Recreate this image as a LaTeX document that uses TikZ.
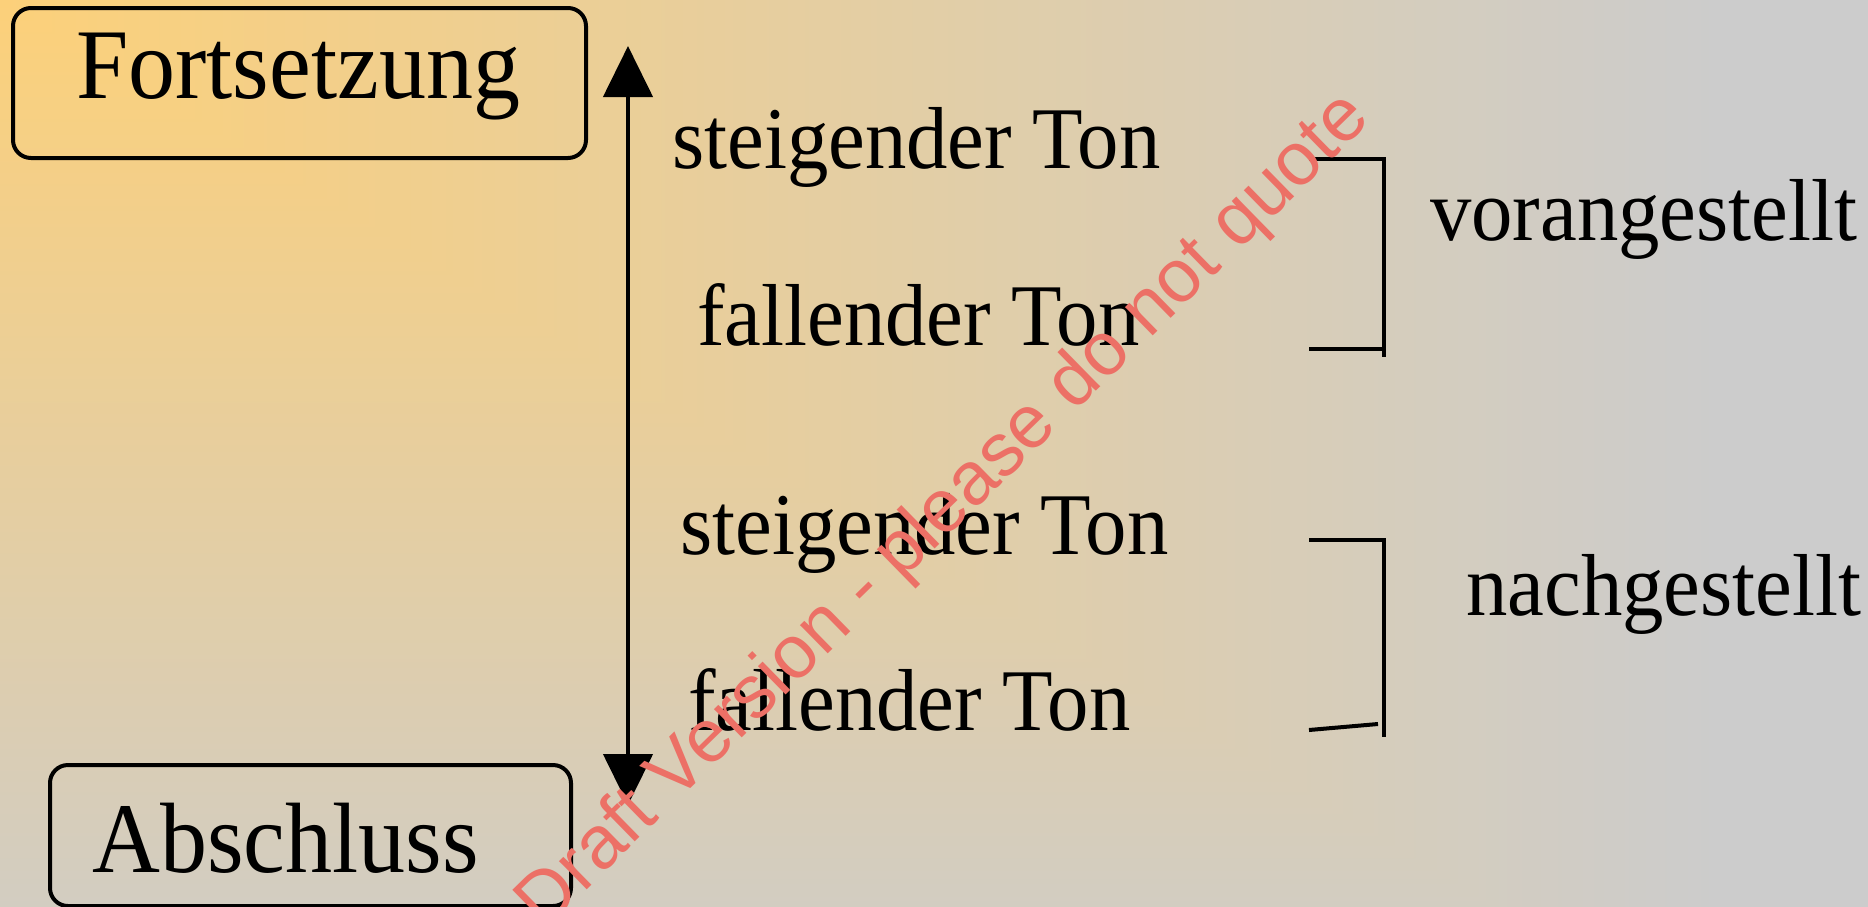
\documentclass[tikz,border=0pt]{standalone}
\usepackage{fontspec}
\setmainfont[FakeStretch=0.94]{Liberation Serif}
\newfontfamily\wmfont{Liberation Sans}
\usetikzlibrary{arrows.meta}
\definecolor{bgB}{RGB}{204,204,204}
\definecolor{wmred}{RGB}{236,112,102}
\pgfdeclarefunctionalshading{cornergrad}{\pgfpoint{0bp}{0bp}}{\pgfpoint{100bp}{100bp}}{}{
  exch 25 sub 46 div
  exch 75 exch sub 57.5 div
  2 copy sub abs add add 2 div
  dup 1 sub abs neg add 1 add 2 div
  dup abs add 2 div
  dup -0.188 mul 0.988 add
  exch dup -0.016 mul 0.816 add
  exch 0.322 mul 0.478 add
}
\begin{document}
\begin{tikzpicture}[x=1pt,y=-1pt,
  boxstyle/.style={draw=black,line width=4pt,rounded corners=18pt,inner sep=0pt,anchor=north west},
  bigtxt/.style={font=\fontsize{100}{110}\selectfont,inner sep=0pt,anchor=base west},
  midtxt/.style={font=\fontsize{88}{100}\selectfont,inner sep=0pt,anchor=base west},
  brk/.style={line width=4pt},
  axisarrow/.style={line width=4.5pt,{Triangle[length=51pt,width=49pt]}-{Triangle[length=51pt,width=49pt]}},
  wmark/.style={font=\wmfont\fontsize{75}{80}\selectfont,text=wmred,inner sep=0pt,rotate=44.4}]
\useasboundingbox (0,0) rectangle (1868,906);
\fill[bgB] (0,0) rectangle (1868,906);
\shade[shading=cornergrad] (0,0) rectangle (1868,906);
% boxes
\node[boxstyle,minimum width=573pt,minimum height=150pt] (fbox) at (11,6) {};
\node[boxstyle,minimum width=521pt,minimum height=141pt] (abox) at (48,763) {};
\node[bigtxt] (fort) at (76,98) {Fortsetzung};
\node[bigtxt] (absch) at (92,872) {Abschluss};
% arrow
\coordinate (atop) at (628,46);
\coordinate (abot) at (628,805);
\draw[axisarrow] (atop) -- (abot);
% middle texts
\node[midtxt] (st1) at (672,168) {steigender Ton};
\node[midtxt] (fa1) at (697,345) {fallender Ton};
\node[midtxt] (st2) at (680,554) {steigender Ton};
\node[midtxt] (fa2) at (688,730) {fallender Ton};
\node[midtxt] (vor) at (1430,240) {vorangestellt};
\node[midtxt] (nach) at (1466,615) {nachgestellt};
% brackets
\coordinate (b1a) at (1309,159);
\coordinate (b1b) at (1384,159);
\coordinate (b1c) at (1384,357);
\coordinate (b1d) at (1309,349);
\coordinate (b1e) at (1384,349);
\draw[brk] (b1a) -- (b1b) -- (b1c);
\draw[brk] (b1d) -- (b1e);
\coordinate (b2a) at (1309,540);
\coordinate (b2b) at (1384,540);
\coordinate (b2c) at (1384,737);
\coordinate (b2d) at (1309,730);
\coordinate (b2e) at (1378,724);
\draw[brk] (b2a) -- (b2b) -- (b2c);
\draw[brk] (b2d) -- (b2e);
% watermark
\node[wmark] (wm) at (945,512) {Draft Version - please do not quote};
\end{tikzpicture}
\end{document}
